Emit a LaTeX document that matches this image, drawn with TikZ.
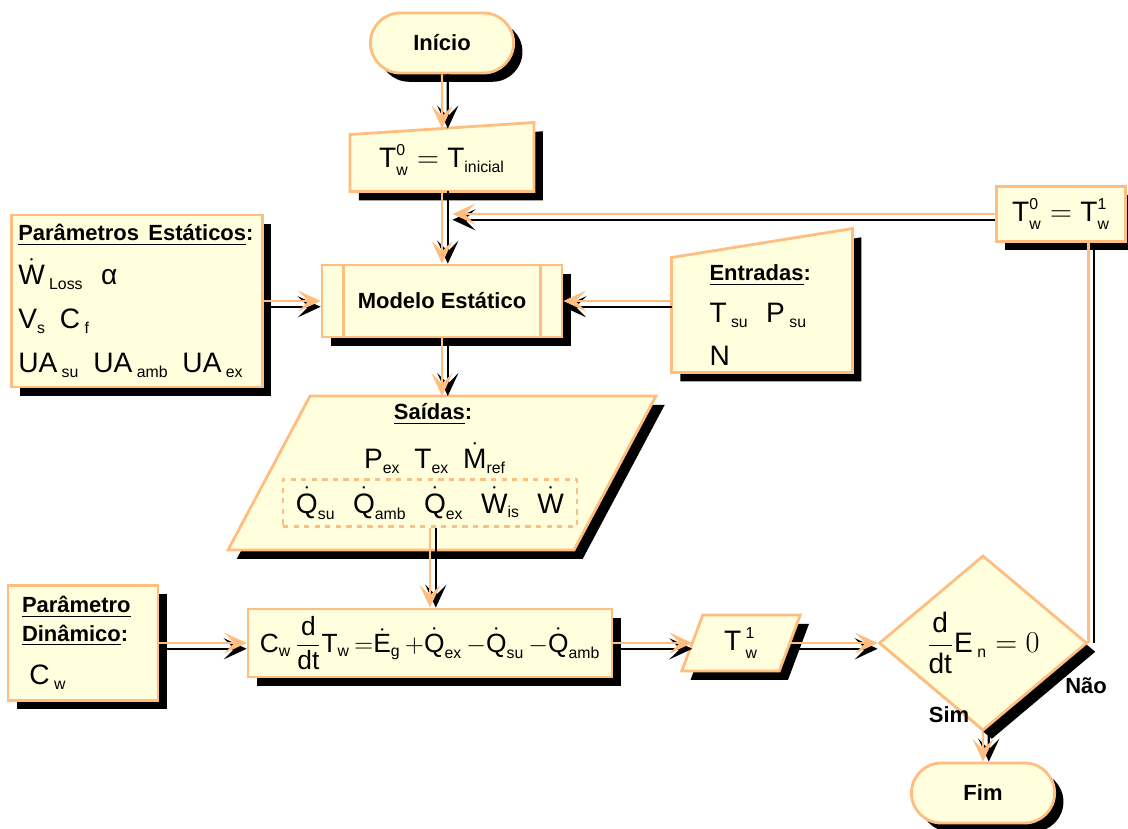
\documentclass[tikz,border=0pt]{standalone}
\usepackage{amsmath}
\usepackage{fontspec}
\setmainfont{Liberation Sans}
\usepackage{tikz}
\usetikzlibrary{arrows.meta, positioning, shapes.geometric, shapes.misc, shadows, backgrounds}
\definecolor{boxfill}{RGB}{255,255,221}
\definecolor{boxline}{RGB}{255,190,128}
\newcommand{\lbl}{\fontsize{12.5}{16}\selectfont\bfseries}
\newcommand{\subt}[1]{\text{\fontsize{9}{10}\selectfont #1}}
\newcommand{\subs}[1]{\text{\fontsize{9}{10}\selectfont\hspace{2.5pt}#1}}

\begin{document}
\begin{tikzpicture}[x=0.02cm, y=-0.02cm,
      box/.style={draw=boxline, fill=boxfill, line width=1.6pt,
                  drop shadow={shadow xshift=5pt, shadow yshift=-5pt, fill=black, opacity=1}},
      term/.style={box, rounded rectangle, minimum width=3.1cm, minimum height=1.2cm, font=\lbl},
      proc/.style={box, rectangle, inner sep=0pt},
      hold/.style={rectangle, inner sep=0pt, outer sep=0pt},
      eq/.style={font=\fontsize{16}{24}\selectfont},
      arr/.style={draw=boxline, line width=1.3pt, -{Stealth[length=13pt, width=12pt, inset=6pt]}},
      vshd/.style={arr, draw=black, transform canvas={xshift=3.3pt}},
      hshd/.style={arr, draw=black, transform canvas={yshift=-3.3pt}},
      link/.style={draw=boxline, line width=1.3pt}
    ]
    \useasboundingbox (0,0) rectangle (1128,828);

    \node[term] (start) at (442,43) {Início};
    \node[hold, eq, minimum width=3.68cm, minimum height=1.26cm] (init) at (442,160)
      {$\text{T}^{\subt{0}}_{\subt{w}} = \text{T}_{\subt{inicial}}$};
    \node[proc, minimum width=5.02cm, minimum height=3.44cm, text width=4.75cm, align=left,
          font=\fontsize{16}{25}\selectfont] (params) at (137,301)
      {{\lbl\underline{Parâmetros Estáticos}:}\\
       $\dot{\text{W}}_{\subs{Loss}}$\hspace{10pt}α\\
       $\text{V}_{\subt{s}}$\hspace{8pt}$\text{C}_{\subs{f}}$\\
       $\text{UA}_{\subs{su}}$\hspace{8pt}$\text{UA}_{\subs{amb}}$\hspace{8pt}$\text{UA}_{\subs{ex}}$};
    \node[proc, minimum width=4.8cm, minimum height=1.44cm, font=\lbl] (model) at (442,301) {Modelo Estático};
    \node[hold, eq, minimum width=3.62cm, minimum height=2.3cm, text width=2.1cm, align=left] (inputs) at (762,315)
      {{\lbl\underline{Entradas}:}\\
       $\text{T}_{\subs{su}}$\hspace{10pt}$\text{P}_{\subs{su}}$\\
       N};
    \node[proc, eq, minimum width=2.58cm, minimum height=1.1cm] (loopbox) at (1061,214)
      {$\text{T}^{\subt{0}}_{\subt{w}} = \text{T}^{\subt{1}}_{\subt{w}}$};

    \node[hold, minimum width=6.92cm, minimum height=3.08cm] (outputs) at (442,473) {};
    \node[font=\lbl] (outtitle) at (433,414) {\underline{Saídas}:};
    \node[eq] (outvars) at (435,458)
      {$\text{P}_{\subt{ex}}$\hspace{8pt}$\text{T}_{\subt{ex}}$\hspace{8pt}$\dot{\text{M}}_{\subt{ref}}$};
    \node[eq, draw=boxline, dashed, line width=1.3pt, minimum width=5.88cm, minimum height=0.94cm, inner sep=0pt] (flows) at (430,503)
      {$\dot{\text{Q}}_{\subt{su}}$\hspace{10pt}$\dot{\text{Q}}_{\subt{amb}}$\hspace{10pt}$\dot{\text{Q}}_{\subt{ex}}$\hspace{10pt}$\dot{\text{W}}_{\subt{is}}$\hspace{10pt}$\dot{\text{W}}$};

    \node[proc, minimum width=3cm, minimum height=2.3cm, text width=2.44cm, align=left, font=\lbl] (dyn) at (83,643)
      {\underline{Parâmetro}\\\underline{Dinâmico}:\\[9pt]
       {\normalfont\fontsize{16}{20}\selectfont\ $\text{C}_{\subs{w}}$}};
    \node[proc, minimum width=7.28cm, minimum height=1.36cm, font=\fontsize{15}{20}\selectfont] (eqn) at (430,643)
      {$\text{C}_{\subt{w}}\,\dfrac{\text{d}}{\text{dt}}\text{T}_{\subt{w}}\,{=}\dot{\text{E}}_{\subt{g}}\,{+}\dot{\text{Q}}_{\subt{ex}}\,{-}\dot{\text{Q}}_{\subt{su}}\,{-}\dot{\text{Q}}_{\subt{amb}}$};
    \node[hold, eq, minimum width=1.95cm, minimum height=1.12cm] (tw1) at (741,643)
      {$\text{T}^{\subs{1}}_{\subs{w}}$};
    \node[box, diamond, eq, minimum width=4.16cm, minimum height=2.72cm, inner sep=0pt] (dec) at (983,643)
      {$\dfrac{\text{d}}{\text{dt}}\text{E}_{\subs{n}} = 0$};
    \node[term] (end) at (983,793) {Fim};

    \node[font=\lbl] (yes) at (949,715) {Sim};
    \node[font=\lbl] (no) at (1086,686) {Não};

    % shapes that TikZ has no node for
    \begin{scope}[on background layer]
      \draw[box] ([yshift=-0.12cm]init.north west) -- ([yshift=0.12cm]init.north east)
        -- (init.south east) -- (init.south west) -- cycle;
      \draw[box] (inputs.north west) -- ([yshift=0.58cm]inputs.north east)
        -- (inputs.south east) -- (inputs.south west) -- cycle;
      \draw[box] ([xshift=0.82cm]outputs.north west) -- ([xshift=0.82cm]outputs.north east)
        -- ([xshift=-0.82cm]outputs.south east) -- ([xshift=-0.82cm]outputs.south west) -- cycle;
      \draw[box] ([xshift=0.21cm]tw1.north west) -- ([xshift=0.21cm]tw1.north east)
        -- ([xshift=-0.21cm]tw1.south east) -- ([xshift=-0.21cm]tw1.south west) -- cycle;
    \end{scope}
    \draw[boxline, line width=1.6pt] ([xshift=0.45cm]model.north west) -- ([xshift=0.45cm]model.south west);
    \draw[boxline, line width=1.6pt] ([xshift=-0.45cm]model.north east) -- ([xshift=-0.45cm]model.south east);

    % connectors
    \foreach \a/\b in {start/init, init/model, model/outputs, flows/eqn, dec/end} {
      \draw[vshd] (\a) -- (\b);
      \draw[arr] (\a) -- (\b);
    }
    \foreach \a/\b in {params/model, dyn/eqn, eqn/tw1, tw1/dec} {
      \draw[hshd] (\a) -- (\b);
      \draw[arr] (\a) -- (\b);
    }
    \draw[hshd] (inputs.west |- model) -- (model);
    \draw[arr] (inputs.west |- model) -- (model);

    \draw[link, draw=black, transform canvas={xshift=3.3pt}] (dec.east) -- (dec.east |- loopbox.south);
    \draw[link] (dec.east) -- (dec.east |- loopbox.south);
    \draw[hshd, shorten >=6pt] (loopbox) -- (loopbox -| init.south);
    \draw[arr, shorten >=6pt] (loopbox) -- (loopbox -| init.south);
  \end{tikzpicture}
\end{document}
